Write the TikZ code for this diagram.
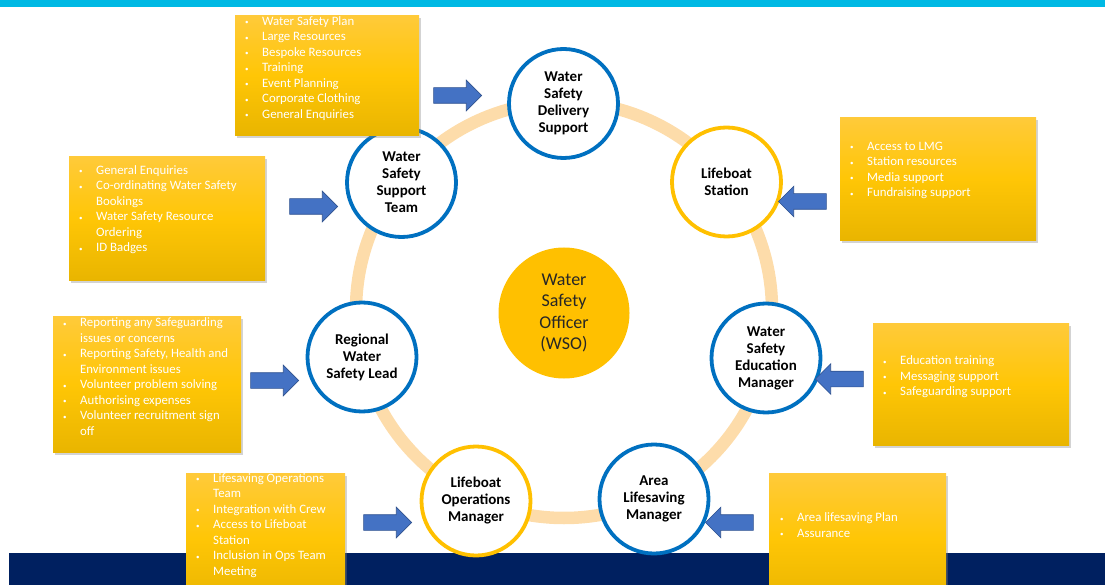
\documentclass[tikz,border=0pt]{standalone}
\usepackage{fontspec}
\setmainfont{Carlito}
\usetikzlibrary{shapes.arrows,shadows}
\definecolor{ringcol}{HTML}{FDDCAA}
\definecolor{roleblue}{HTML}{0070C0}
\definecolor{roleyellow}{HTML}{FFC000}
\definecolor{boxtop}{HTML}{FFCA3A}
\definecolor{boxmid}{HTML}{FFC606}
\definecolor{boxbot}{HTML}{E9B500}
\definecolor{arrowfill}{HTML}{4472C4}
\definecolor{arrowline}{HTML}{2F528F}
\definecolor{topbar}{HTML}{00B9E4}
\definecolor{navybar}{HTML}{002060}
\newcommand{\bul}{\makebox[17pt][l]{\raisebox{0.5pt}{\scriptsize\textbullet}}}
\newcommand{\cont}{\hspace*{17pt}}
\tikzset{
  role/.style={shape=circle,fill=white,line width=3.8pt,minimum size=109pt,inner sep=0pt,align=center,font=\fontsize{15}{17}\selectfont\bfseries},
  bluerole/.style={role,draw=roleblue},
  yellowrole/.style={role,draw=roleyellow},
  taskbox/.style={shape=rectangle,anchor=north west,inner sep=0pt,top color=boxtop,bottom color=boxbot,middle color=boxmid,drop shadow={opacity=0.35,shadow xshift=2pt,shadow yshift=-3pt}},
  tasklist/.style={anchor=west,align=left,text=white,inner sep=0pt,font=\fontsize{12.8}{15.5}\selectfont},
  blockarrow/.style={shape=single arrow,anchor=tip,fill=arrowfill,draw=arrowline,line width=0.6pt,minimum height=48pt,text height=7.5pt,text depth=7.5pt,single arrow head extend=7.5pt,inner sep=0pt}
}
\begin{document}
\begin{tikzpicture}[x=1pt,y=-1pt]
                \useasboundingbox (0,0) rectangle (1105,585);
                \clip (0,0) rectangle (1105,585);
                % bars
                \fill[topbar] (0,0) rectangle (1105,7);
                \fill[navybar] (9,553) rectangle (1105,585);
                % ring
                \draw[ringcol,line width=12.5pt] (564,310) circle[radius=208];
                % centre
                \node[shape=circle,fill=roleyellow,minimum size=131pt,inner sep=0pt,align=center,font=\fontsize{18}{21.5}\selectfont,text=black!85] (0) at (564,313) {Water\\Safety\\Officer\\(WSO)};
                % roles
                \node[bluerole] (1) at (563.5,103.5) {Water\\Safety\\Delivery\\Support};
                \node[yellowrole] (2) at (726.5,182) {Lifeboat\\Station};
                \node[bluerole] (3) at (766,358) {Water\\Safety\\Education\\Manager};
                \node[bluerole] (4) at (654,499) {Area\\Lifesaving\\Manager};
                \node[yellowrole] (5) at (476,501) {Lifeboat\\Operations\\Manager};
                \node[bluerole] (6) at (362,357) {Regional\\Water\\Safety Lead};
                \node[bluerole] (7) at (401.5,182.5) {Water\\Safety\\Support\\Team};
                % boxes
                \node[taskbox,minimum width=184pt,minimum height=120pt] (b1) at (235,15) {};
                \node[taskbox,minimum width=196pt,minimum height=123pt] (b2) at (840,117) {};
                \node[taskbox,minimum width=196pt,minimum height=122pt] (b3) at (873,323) {};
                \node[taskbox,minimum width=177pt,minimum height=130pt] (b4) at (769,473) {};
                \node[taskbox,minimum width=159pt,minimum height=130pt] (b5) at (186,473) {};
                \node[taskbox,minimum width=188pt,minimum height=136pt] (b6) at (53,316) {};
                \node[taskbox,minimum width=196pt,minimum height=124pt] (b7) at (69,156) {};
                % lists
                \node[tasklist] (t1) at (245,68.5) {\bul Water Safety Plan\\\bul Large Resources\\\bul Bespoke Resources\\\bul Training\\\bul Event Planning\\\bul Corporate Clothing\\\bul General Enquiries};
                \node[tasklist] (t2) at (850,170.5) {\bul Access to LMG\\\bul Station resources\\\bul Media support\\\bul Fundraising support};
                \node[tasklist] (t3) at (883,377) {\bul Education training\\\bul Messaging support\\\bul Safeguarding support};
                \node[tasklist] (t4) at (780,525) {\bul Area lifesaving Plan\\\bul Assurance};
                \node[tasklist] (t5) at (196,525.5) {\bul Lifesaving Operations\\\cont Team\\\bul Integration with Crew\\\bul Access to Lifeboat\\\cont Station\\\bul Inclusion in Ops Team\\\cont Meeting};
                \node[tasklist] (t6) at (63,376.5) {\bul Reporting any Safeguarding\\\cont issues or concerns\\\bul Reporting Safety, Health and\\\cont Environment issues\\\bul Volunteer problem solving\\\bul Authorising expenses\\\bul Volunteer recruitment sign\\\cont off};
                \node[tasklist] (t7) at (79,209.5) {\bul General Enquiries\\\bul Co-ordinating Water Safety\\\cont Bookings\\\bul Water Safety Resource\\\cont Ordering\\\bul ID Badges};
                % arrows
                \node[blockarrow] (a1) at (482,95.5) {};
                \node[blockarrow,shape border rotate=180] (a2) at (778,201.5) {};
                \node[blockarrow,shape border rotate=180] (a3) at (815,379) {};
                \node[blockarrow,shape border rotate=180] (a4) at (705,522.5) {};
                \node[blockarrow] (a5) at (412,522.5) {};
                \node[blockarrow] (a6) at (299,380.5) {};
                \node[blockarrow] (a7) at (338,206.5) {};
            \end{tikzpicture}
\end{document}
